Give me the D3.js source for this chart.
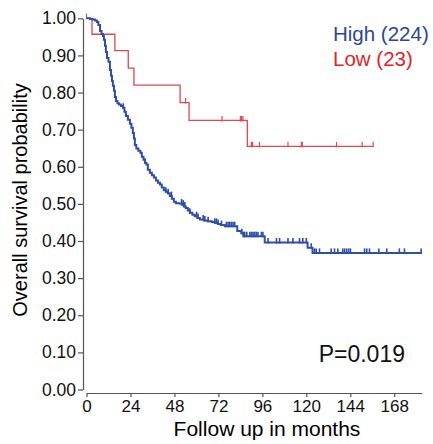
<!DOCTYPE html>
<html>
<head>
<meta charset="utf-8">
<script src="https://cdn.jsdelivr.net/npm/d3@7"></script>
<style>
  body { margin: 0; background: #fff; }
  svg { display: block; font-family: "Liberation Sans", Arial, sans-serif; }
  .axis path, .axis line { stroke: #555; stroke-width: 1.2; }
  .axis text { fill: #111; }
</style>
</head>
<body>
<svg id="km" width="433" height="444"></svg>
<script>
// Kaplan-Meier steps (months, survival)
const highTime = [0, 1.9, 3.3, 4.6, 5.7, 6.5, 7.4, 8.2, 9.0, 9.5, 10.1, 10.6, 11.2, 12.0, 12.8, 13.4, 13.9, 14.4,
  15.0, 15.5, 16.1, 16.9, 17.7, 18.8, 19.9, 20.7, 21.5, 22.6, 23.7, 24.5, 25.3, 25.9, 26.4, 27.2, 28.3, 29.4,
  30.2, 31.1, 31.9, 32.7, 33.5, 34.6, 35.7, 36.8, 37.9, 39.0, 40.1, 41.1, 42.2, 43.3, 44.4, 45.5, 46.6, 47.7,
  48.8, 50.4, 52.0, 53.1, 54.2, 55.3, 56.4, 57.8, 59.1, 60.5, 61.9, 64.0, 66.2, 68.4, 70.0, 71.7, 73.3, 75.5,
  82.3, 84.5, 85.6, 97.3, 120.7, 123.4];
const highSurv = [1.000, 0.998, 0.997, 0.994, 0.990, 0.982, 0.966, 0.958, 0.952, 0.942, 0.926, 0.909, 0.893, 0.883,
  0.861, 0.845, 0.831, 0.818, 0.805, 0.788, 0.777, 0.771, 0.768, 0.764, 0.759, 0.748, 0.737, 0.727, 0.716, 0.705,
  0.691, 0.676, 0.659, 0.649, 0.643, 0.638, 0.627, 0.619, 0.611, 0.606, 0.592, 0.584, 0.577, 0.571, 0.563, 0.557,
  0.552, 0.544, 0.537, 0.533, 0.529, 0.521, 0.514, 0.506, 0.502, 0.501, 0.498, 0.493, 0.489, 0.482, 0.476, 0.471,
  0.467, 0.462, 0.458, 0.455, 0.453, 0.451, 0.449, 0.446, 0.443, 0.440, 0.427, 0.421, 0.413, 0.396, 0.382, 0.368];
const highEnd = 182.7;
const highCensor = [20.1, 31.9, 43.3, 44.6, 46.4, 51.9, 52.8, 53.7, 56.4, 60.1, 60.9, 63.7, 64.6, 66.4, 70.0, 70.9,
  71.8, 73.7, 76.4, 77.3, 78.2, 79.1, 80.0, 80.9, 84.8, 85.8, 86.4, 87.5, 89.2, 90.1, 90.9, 91.8, 92.7, 93.6, 95.5,
  96.3, 99.1, 103.7, 105.4, 110.0, 112.7, 116.3, 118.1, 120.0, 122.7, 124.5, 125.4, 127.2, 133.6, 135.4, 137.2,
  139.9, 140.9, 142.0, 143.1, 144.1, 151.8, 153.0, 154.5, 159.6, 163.9, 170.8, 173.6, 182.7];

const lowTime = [0, 3.0, 15.5, 22.8, 25.9, 51.1, 56.0, 87.8];
const lowSurv = [1.000, 0.957, 0.913, 0.866, 0.820, 0.773, 0.725, 0.655];
const lowEnd = 156.5;
const lowCensor = [0, 54.1, 74.0, 84.0, 84.6, 85.4, 90.0, 90.7, 94.4, 110.0, 117.3, 117.8, 136.5, 150.5, 156.5];

const xTicks = [0, 24, 48, 72, 96, 120, 144, 168];
const yTicks = [0, 0.1, 0.2, 0.3, 0.4, 0.5, 0.6, 0.7, 0.8, 0.9, 1.0];

const groups = [
  {name: "High (224)", time: highTime, surv: highSurv, end: highEnd, censor: highCensor,
   color: "#2f4fa6", text: "#2a4898", width: 2},
  {name: "Low (23)", time: lowTime, surv: lowSurv, end: lowEnd, censor: lowCensor,
   color: "#e0484e", text: "#e4232b", width: 1.3}
];

const svg = d3.select("#km");
const x = d3.scaleLinear().domain([0, 183]).range([86.5, 421.7]);
const y = d3.scaleLinear().domain([0, 1]).range([389.5, 18.3]);

// axes
svg.append("g")
  .attr("class", "axis")
  .attr("transform", "translate(83,0)")
  .call(d3.axisLeft(y).tickValues(yTicks).tickFormat(d3.format(".2f")).tickSize(5).tickSizeOuter(0).tickPadding(2))
  .call(g => g.selectAll("text").style("font-size", "17.5px"));

svg.append("g")
  .attr("class", "axis")
  .attr("transform", "translate(0,393)")
  .call(d3.axisBottom(x).tickValues(xTicks).tickSize(4).tickSizeOuter(0).tickPadding(3))
  .call(g => g.selectAll("text").style("font-size", "17px"));

svg.append("text")
  .attr("transform", "translate(27,200) rotate(-90)")
  .attr("text-anchor", "middle")
  .style("font-size", "20px")
  .text("Overall survival probability");

svg.append("text")
  .attr("x", 267).attr("y", 436)
  .attr("text-anchor", "middle")
  .style("font-size", "21px")
  .text("Follow up in months");

const survAt = (g, t) => {
  let s = g.surv[0];
  g.time.forEach((tt, i) => { if (tt <= t) s = g.surv[i]; });
  return s;
};

const line = d3.line()
  .x(d => x(d[0]))
  .y(d => y(d[1]))
  .curve(d3.curveStepAfter);

// low first so blue sits on top
groups.slice().reverse().forEach(g => {
  const pts = g.time.map((t, i) => [t, g.surv[i]]);
  pts.push([g.end, g.surv[g.surv.length - 1]]);
  svg.append("path")
    .attr("d", line(pts))
    .attr("fill", "none")
    .attr("stroke", g.color)
    .attr("stroke-width", g.width);
  svg.append("g").selectAll("line")
    .data(g.censor)
    .join("line")
    .attr("x1", d => x(d)).attr("x2", d => x(d))
    .attr("y1", d => y(survAt(g, d)) - 4.5)
    .attr("y2", d => y(survAt(g, d)) + 1)
    .attr("stroke", g.color)
    .attr("stroke-width", g.width === 2 ? 1.6 : 1.2);
});

// legend
groups.forEach((g, i) => {
  svg.append("text")
    .attr("x", 333).attr("y", 40.5 + i * 25)
    .attr("fill", g.text)
    .style("font-size", "20.5px")
    .text(g.name);
});

svg.append("text")
  .attr("x", 405).attr("y", 362)
  .attr("text-anchor", "end")
  .style("font-size", "23px")
  .attr("fill", "#111")
  .text("P=0.019");
</script>
</body>
</html>
